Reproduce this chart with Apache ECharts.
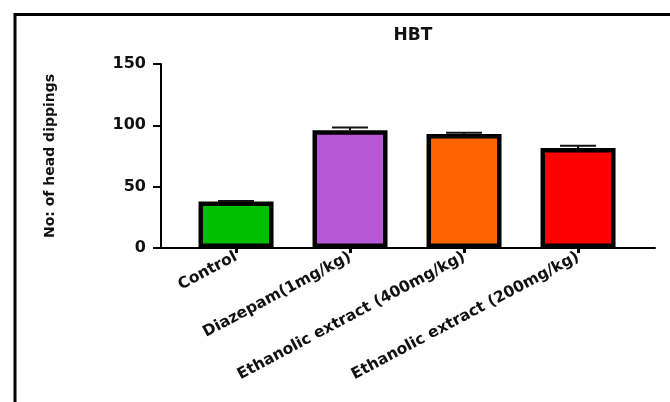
<!DOCTYPE html>
<html>
<head>
<meta charset="utf-8">
<script src="https://cdn.jsdelivr.net/npm/echarts@6/dist/echarts.min.js"></script>
<style>html,body{margin:0;padding:0;background:#fff}#c{width:670px;height:402px}</style>
</head>
<body>
<div id="c"></div>
<script>
const categories = ['Control', 'Diazepam(1mg/kg)', 'Ethanolic extract (400mg/kg)', 'Ethanolic extract (200mg/kg)'];
const means = [38, 96, 93, 81.5];
const sems = [0.3, 2.3, 1, 1.8];
const colors = ['#00BE00', '#B858D6', '#FF6300', '#FF0000'];
const yTicks = [0, 50, 100, 150];
const titleText = 'HBT';
const yName = 'No: of head dippings';

const positions = categories.map((c, i) => i + 1);
const font = 'DejaVu Sans';

const chart = echarts.init(document.getElementById('c'), null, {renderer: 'canvas'});
chart.setOption({
  animation: false,
  backgroundColor: '#fff',
  title: {
    text: titleText, left: 408, top: 22, textAlign: 'center',
    textStyle: {fontFamily: font, fontSize: 17, fontWeight: 'bold', color: '#111'}
  },
  graphic: [{
    type: 'rect', shape: {x: 15, y: 14.5, width: 700, height: 420},
    style: {fill: 'none', stroke: '#000', lineWidth: 3}, silent: true
  }],
  grid: {left: 161, right: 15, top: 64, bottom: 154},
  xAxis: {
    type: 'value', min: 0.342, max: 4.675,
    splitLine: {show: false},
    axisLine: {show: true, onZero: false, lineStyle: {color: '#000', width: 2}},
    axisTick: {show: true, customValues: positions, length: 5, lineStyle: {color: '#000', width: 3}},
    axisLabel: {
      customValues: positions, rotate: 28, margin: 8,
      fontFamily: font, fontSize: 15.5, fontWeight: 'bold', color: '#111',
      formatter: v => categories[Math.round(v) - 1] || ''
    }
  },
  yAxis: {
    type: 'value', min: yTicks[0], max: yTicks[yTicks.length - 1], interval: 50,
    splitLine: {show: false},
    axisLine: {show: true, lineStyle: {color: '#000', width: 2}},
    axisTick: {show: true, inside: false, length: 8, lineStyle: {color: '#000', width: 2}},
    axisLabel: {margin: 15, fontFamily: font, fontSize: 16, fontWeight: 'bold', color: '#111'},
    name: yName, nameLocation: 'middle', nameGap: 104, nameRotate: 90,
    nameTextStyle: {fontFamily: font, fontSize: 14, fontWeight: 'bold', color: '#111'}
  },
  series: [{
    type: 'bar', barWidth: 75,
    data: means.map((m, i) => ({
      value: [positions[i], m],
      itemStyle: {color: colors[i], borderColor: '#000', borderWidth: 4.5}
    }))
  }, {
    type: 'custom', z: 5,
    data: means.map((m, i) => [positions[i], m, sems[i]]),
    renderItem: function (params, api) {
      const x = api.value(0), m = api.value(1), e = api.value(2);
      const base = api.coord([x, m]);
      const top = api.coord([x, m + e]);
      const half = 18;
      return {
        type: 'group',
        children: [
          {type: 'line', shape: {x1: base[0], y1: base[1], x2: top[0], y2: top[1]}, style: {stroke: '#111', lineWidth: 2}},
          {type: 'line', shape: {x1: top[0] - half, y1: top[1], x2: top[0] + half, y2: top[1]}, style: {stroke: '#111', lineWidth: 2}}
        ]
      };
    }
  }]
});
</script>
</body>
</html>
